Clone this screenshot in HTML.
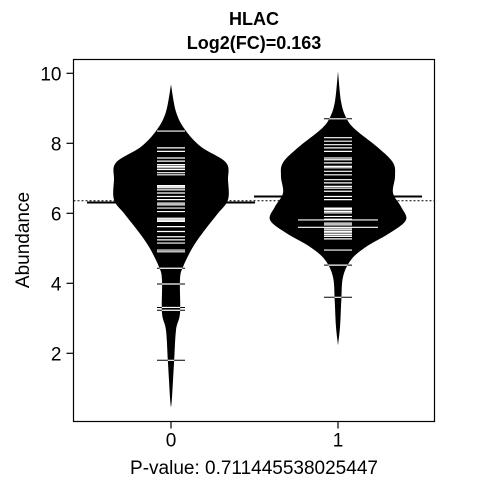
<!DOCTYPE html>
<html><head><meta charset="utf-8"><style>
body{margin:0;background:#fff}
svg text{font-family:"Liberation Sans",Arial,sans-serif;fill:#000}
</style></head><body>
<svg id="c" width="480" height="480" viewBox="0 0 480 480">
<text x="254" y="25" font-size="18" font-weight="bold" text-anchor="middle">HLAC</text>
<text x="254" y="49" font-size="18" font-weight="bold" text-anchor="middle">Log2(FC)=0.163</text>
<text x="254" y="474" font-size="19" text-anchor="middle">P-value: 0.711445538025447</text>
<text transform="translate(29,240) rotate(-90)" font-size="19" text-anchor="middle">Abundance</text>
<rect x="73.5" y="59.5" width="361" height="362" fill="none" stroke="#000" stroke-width="1.2"/>
<g id="g"></g>
</svg>
<script>
const categories=["0","1"];
const yTicks=[2,4,6,8,10];
const means=[6.31,6.48];
const grandMean=6.36;
const profileV0=[9.68,8.9,8.39,7.9,7.45,6.96,6.39,6.0,5.53,5.04,4.47,4.1,3.15,2.66,1.71,0.74,0.45];
const profileD0=[0,5,14,30,55,57,57,47,34,22,12,9,9,5,3,1,0];
const profileV1=[10.05,9.2,8.74,8.4,7.9,7.45,7.05,6.58,6.19,5.81,5.44,5.04,4.67,4.18,3.5,2.75,2.23];
const profileD1=[0,3,8,17,39,55,57,55,63,68,52,28,13,5,3.3,2,0];
const obs0=[8.35,7.87,7.77,7.58,7.49,7.39,7.34,7.30,7.25,7.16,7.10,6.79,6.76,6.73,6.67,6.58,6.48,6.39,6.29,6.24,6.15,6.05,5.86,5.83,5.80,5.77,5.62,5.48,5.33,5.24,5.15,4.95,4.90,4.43,3.98,3.31,3.23,1.80];
const obs1=[8.70,8.16,8.06,7.96,7.87,7.77,7.58,7.53,7.44,7.34,7.30,7.20,7.10,6.96,6.87,6.77,6.72,6.63,6.48,6.39,6.15,6.12,6.10,6.05,6.01,5.91,5.83,5.81,5.72,5.67,5.60,5.58,5.53,5.48,5.44,5.39,5.34,5.27,4.95,4.52,3.60];
const longObs=[[],[5.81,5.60]];
const NS="http://www.w3.org/2000/svg";
const g=document.getElementById('g');
const X0=73.5,X1=434.5,Y0=59.5,Y1=421.5;
function y(v){return 73.3+(10-v)*35;}
function x(i){return 171+i*167;}
function mk(t,a){const e=document.createElementNS(NS,t);for(const k in a)e.setAttribute(k,a[k]);g.appendChild(e);return e;}
function smooth(P){
  let d='M'+P[0][0].toFixed(1)+','+P[0][1].toFixed(1);
  for(let k=0;k<P.length-1;k++){
    const p0=P[Math.max(0,k-1)],p1=P[k],p2=P[k+1],p3=P[Math.min(P.length-1,k+2)];
    const c1=[p1[0]+(p2[0]-p0[0])/6,p1[1]+(p2[1]-p0[1])/6];
    const c2=[p2[0]-(p3[0]-p1[0])/6,p2[1]-(p3[1]-p1[1])/6];
    d+='C'+[c1,c2,p2].map(q=>q[0].toFixed(1)+','+q[1].toFixed(1)).join(' ');
  }
  return d;
}
yTicks.forEach(t=>{
  const l=mk('line',{x1:X0-7,x2:X0,y1:y(t),y2:y(t),stroke:'#000','stroke-width':1.2});
  
  
  const tx=mk('text',{x:X0-12,y:y(t)+7,'font-size':19,'text-anchor':'end'});
  tx.textContent=t;
  
  
});
categories.forEach((c,i)=>{
  const l=mk('line',{x1:x(i),x2:x(i),y1:Y1,y2:Y1+7,stroke:'#000','stroke-width':1.2});
  
  
  const tx=mk('text',{x:x(i),y:Y1+25,'font-size':19,'text-anchor':'middle'});
  tx.textContent=c;
  
  
});
const gm=mk('line',{x1:X0,x2:X1,y1:y(grandMean),y2:y(grandMean),stroke:'#000','stroke-width':1,'stroke-dasharray':'2,2'});


const profs=[[profileV0,profileD0],[profileV1,profileD1]];
const obs=[obs0,obs1];
profs.forEach((p,i)=>{
  const [V,D]=p;const cx=x(i);
  const right=V.map((v,k)=>[cx+D[k],y(v)]);
  const left=V.map((v,k)=>[cx-D[k],y(v)]).reverse();
  const d=smooth(right)+' '+smooth(left).replace('M','L')+'Z';
  const cp=mk('clipPath',{id:'cp'+i});
  const cpp=document.createElementNS(NS,'path');cpp.setAttribute('d',d);cp.appendChild(cpp);
  const b=mk('path',{d:d,fill:'#000'});
  
  
  const ln=mk('line',{x1:cx-84,x2:cx+84,y1:y(means[i]),y2:y(means[i]),stroke:'#000','stroke-width':2});
  
  
  obs[i].forEach(v=>{
    const w=longObs[i].includes(v)?40:14;
    const bl=mk('line',{x1:cx-w,x2:cx+w,y1:y(v),y2:y(v),stroke:'#000','stroke-width':1});
    
    
    const wl=mk('line',{x1:cx-w,x2:cx+w,y1:y(v),y2:y(v),stroke:'#fff','stroke-width':1.2,'clip-path':'url(#cp'+i+')'});
    
    
  });
});
</script>
</body></html>
